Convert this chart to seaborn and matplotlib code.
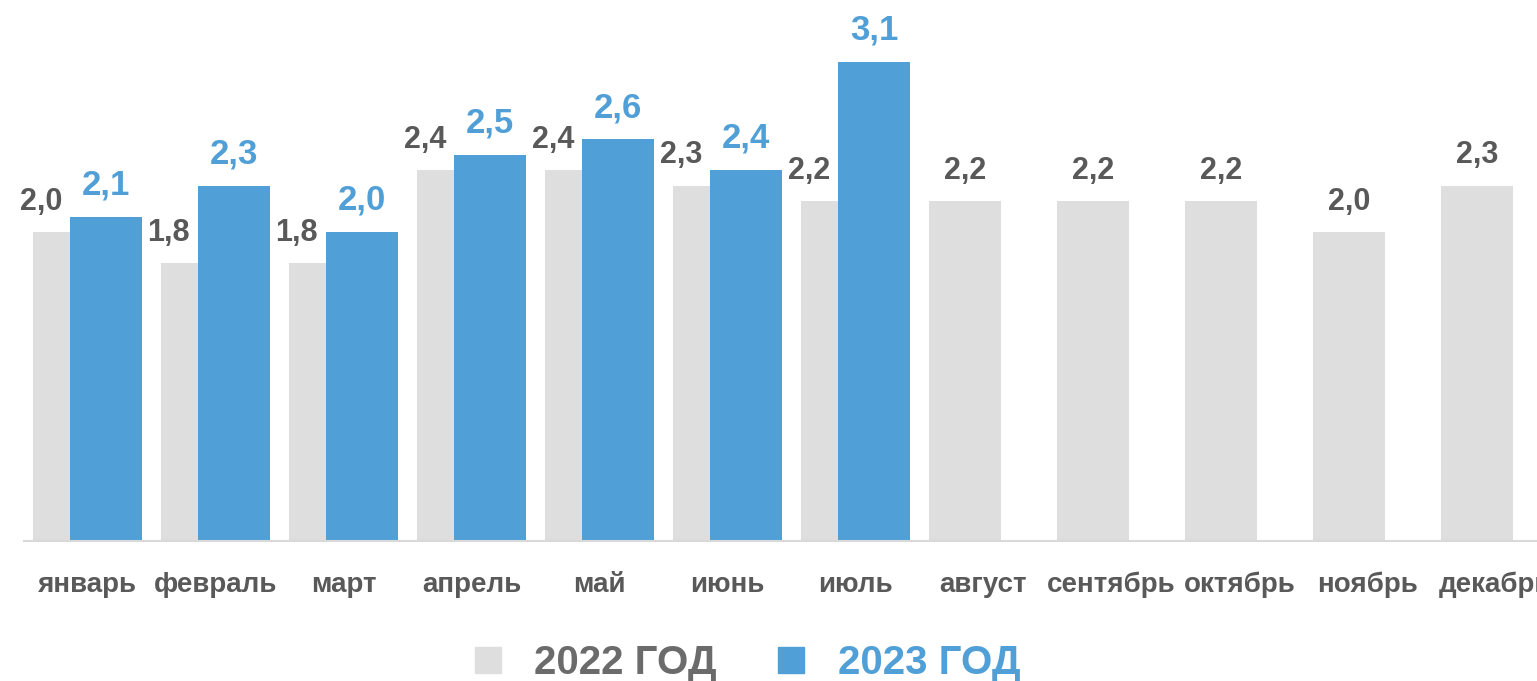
import numpy as np
import pandas as pd
import matplotlib.pyplot as plt
import seaborn as sns
from matplotlib.lines import Line2D

# data
months = ["январь", "февраль", "март", "апрель", "май", "июнь", "июль",
          "август", "сентябрь", "октябрь", "ноябрь", "декабрь"]
vals_2022 = [2.0, 1.8, 1.8, 2.4, 2.4, 2.3, 2.2, 2.2, 2.2, 2.2, 2.0, 2.3]
vals_2023 = [2.1, 2.3, 2.0, 2.5, 2.6, 2.4, 3.1]

grey = "#dedede"
blue = "#519fd7"
grey_txt = "#595959"

sns.set_style("white")
plt.rcParams['font.family'] = ['Liberation Sans', 'DejaVu Sans']
plt.rcParams['font.weight'] = 'bold'

shift = 37 / 128  # blue bar offset vs grey bar (category units)

df22 = pd.DataFrame({"x": np.arange(len(months)).astype(float), "v": vals_2022})
df23 = pd.DataFrame({"x": np.arange(len(vals_2023)) + shift, "v": vals_2023})

fig = plt.figure(figsize=(15.37, 6.81), dpi=100)
ax = fig.add_axes([24 / 1537, 140 / 681, 1 - 24 / 1537, 541 / 681])

sns.barplot(data=df22, x="x", y="v", native_scale=True, orient="x", width=0.5625,
            color=grey, saturation=1, linewidth=0, ax=ax)
sns.barplot(data=df23, x="x", y="v", native_scale=True, orient="x", width=0.57,
            color=blue, saturation=1, linewidth=0, ax=ax)

# value labels
for i, v in enumerate(vals_2022):
    dx = -0.22 if i < len(vals_2023) else 0
    ax.annotate(f"{v:.1f}".replace(".", ","), (i + dx, v), xytext=(0, 11),
                textcoords="offset points", ha="center", va="bottom",
                fontsize=22, fontweight="bold", color=grey_txt)
for i, v in enumerate(vals_2023):
    ax.annotate(f"{v:.1f}".replace(".", ","), (i + shift, v), xytext=(0, 11),
                textcoords="offset points", ha="center", va="bottom",
                fontsize=25, fontweight="bold", color=blue)

ax.set_xlim(-45 / 128, (1537 - 69) / 128)
ax.set_ylim(0, 541 / 154.5)
ax.set_xticks(np.arange(len(months)) + shift / 2)
ax.set_xticklabels(months, fontsize=20, fontweight="bold", color=grey_txt)
ax.tick_params(axis="x", length=0, pad=22)
ax.set_yticks([])
ax.set_xlabel("")
ax.set_ylabel("")
for s in ["top", "right", "left"]:
    ax.spines[s].set_visible(False)
ax.spines["bottom"].set_color("#d9d9d9")
ax.spines["bottom"].set_linewidth(1.5)

handles = [Line2D([], [], marker="s", linestyle="", markersize=19, color=grey),
           Line2D([], [], marker="s", linestyle="", markersize=19, color=blue)]
leg = fig.legend(handles, ["2022 ГОД", "2023 ГОД"], loc="center",
                 bbox_to_anchor=(0.486, 0.027), ncol=2, frameon=False,
                 prop={"size": 29, "weight": "bold"}, handlelength=0.7,
                 handletextpad=0.8, columnspacing=1.5)
leg.get_texts()[0].set_color("#6b6b6b")
leg.get_texts()[1].set_color(blue)

fig.savefig("out.png", dpi=100)
